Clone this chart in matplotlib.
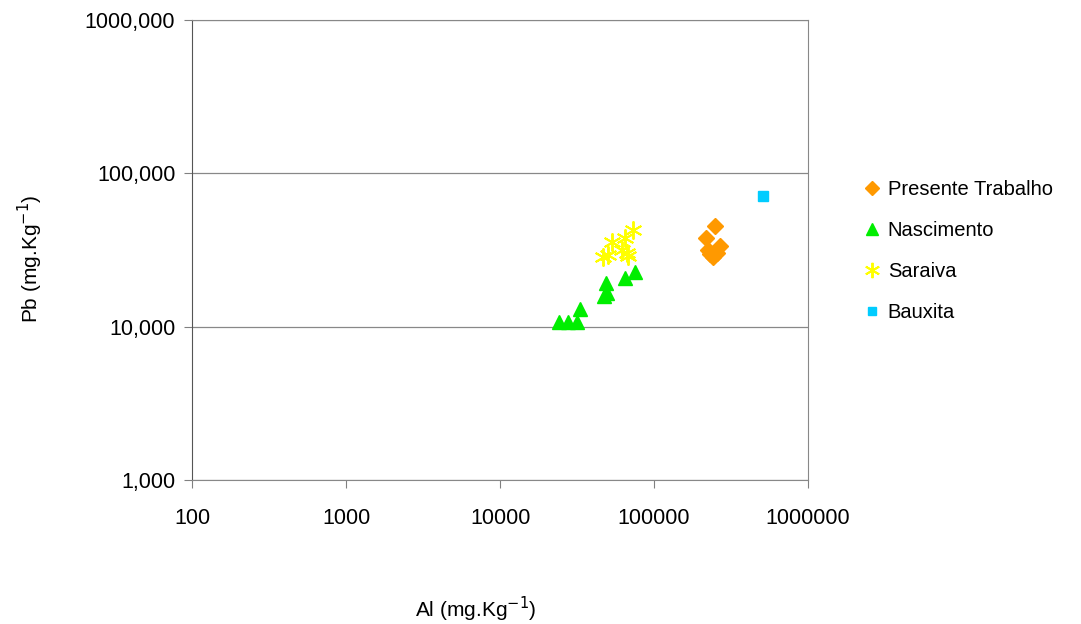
import matplotlib
matplotlib.use("Agg")
import matplotlib.pyplot as plt

plt.rcParams["font.family"] = ["Liberation Sans", "DejaVu Sans"]

# Al (mg/kg) vs Pb (mg/kg) per data source
presente_al = [218000, 249000, 268000, 224000, 241000, 255000, 232000]
presente_pb = [38100, 45400, 33600, 31600, 28600, 30200, 29600]

nascimento_al = [75400, 64900, 48700, 49300, 47500, 33000, 31500, 27500, 24200]
nascimento_pb = [22800, 20700, 19200, 16500, 15800, 13000, 10800, 10800, 10800]

saraiva_al = [73400, 64900, 53100, 66500, 46900, 50400, 61700, 68000]
saraiva_pb = [42800, 37800, 35900, 30100, 28600, 29400, 31600, 28900]

bauxita_al = [508000]
bauxita_pb = [71600]

y_ticks = [1000, 10000, 100000, 1000000]
y_labels = ["1,000", "10,000", "100,000", "1000,000"]
x_ticks = [100, 1000, 10000, 100000, 1000000]
x_labels = ["100", "1000", "10000", "100000", "1000000"]

fig = plt.figure(figsize=(10.81, 6.24), dpi=100)
ax = fig.add_axes([0.1776, 0.2308, 0.57, 0.737])

ax.plot(presente_al, presente_pb, ls="none", marker="D", ms=8, color="#FF9900",
        label="Presente Trabalho")
ax.plot(nascimento_al, nascimento_pb, ls="none", marker="^", ms=10, color="#00EE00",
        label="Nascimento")
ax.plot(saraiva_al, saraiva_pb, ls="none", marker=(6, 2, 0), ms=13, mew=1.4,
        color="#FFFF00", label="Saraiva")
ax.plot(bauxita_al, bauxita_pb, ls="none", marker="s", ms=7, color="#00CCFF",
        label="Bauxita")

ax.set_xscale("log")
ax.set_yscale("log")
ax.set_xlim(100, 1000000)
ax.set_ylim(1000, 1000000)
ax.set_xticks(x_ticks)
ax.set_xticklabels(x_labels)
ax.set_yticks(y_ticks)
ax.set_yticklabels(y_labels)
ax.minorticks_off()
ax.tick_params(axis="both", labelsize=15.5, color="#808080", length=6)
ax.tick_params(axis="x", pad=14)
ax.tick_params(axis="y", pad=6)
ax.grid(axis="y", color="#888888", lw=0.9)
for s in ax.spines.values():
    s.set_color("#888888")
ax.spines["left"].set_color("#555555")

fig.text(0.028, 0.585, "Pb (mg.Kg$^{-1}$)", rotation=90, fontsize=15,
         ha="center", va="center")
fig.text(0.44, 0.0, "Al (mg.Kg$^{-1}$)", fontsize=15, ha="center", va="bottom")

ax.legend(loc="upper left", bbox_to_anchor=(1.08, 0.67), frameon=False,
          fontsize=14.5, handlelength=0.6, handletextpad=0.5, labelspacing=1.1,
          borderaxespad=0, markerscale=0.85)

fig.savefig("out.png", dpi=100)
